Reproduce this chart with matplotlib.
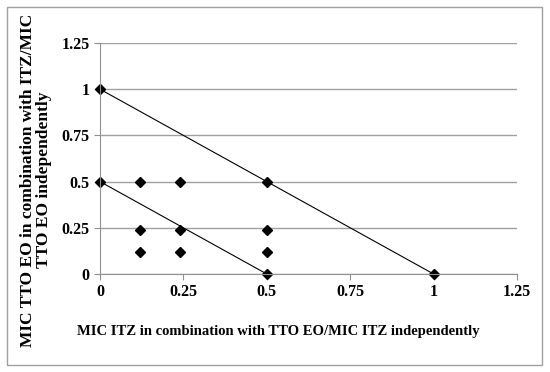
import matplotlib
matplotlib.use("Agg")
import matplotlib.pyplot as plt
from matplotlib.patches import Rectangle

# Data
line1_x = [0, 0.5, 1]
line1_y = [1, 0.5, 0]
line2_x = [0, 0.5]
line2_y = [0.5, 0]
pts_x = [0.12, 0.24, 0.12, 0.24, 0.5, 0.12, 0.24, 0.5]
pts_y = [0.5, 0.5, 0.24, 0.24, 0.24, 0.12, 0.12, 0.12]
ticks = [0, 0.25, 0.5, 0.75, 1, 1.25]
tick_labels = ["0", "0.25", "0.5", "0.75", "1", "1.25"]
xlabel = "MIC ITZ in combination with TTO EO/MIC ITZ independently"
ylabel = "MIC TTO EO in combination with ITZ/MIC\nTTO EO independently"

plt.rcParams['font.family'] = ['Liberation Serif', 'DejaVu Serif']
plt.rcParams['font.weight'] = 'bold'

fig = plt.figure(figsize=(5.5, 3.72), dpi=100)
fig.patches.append(Rectangle((7/550, 7/372), 535/550, 358/372, transform=fig.transFigure,
                             fill=False, edgecolor='#a0a0a0', linewidth=1))
ax = fig.add_axes([100/550, 1 - 274/372, 417/550, 231/372])
ax.set_xlim(0, 1.25)
ax.set_ylim(0, 1.25)
ax.set_xticks(ticks)
ax.set_xticklabels(tick_labels)
ax.set_yticks(ticks)
ax.set_yticklabels(tick_labels)
ax.grid(axis='y', color='#a0a0a0', linewidth=1)
ax.set_axisbelow(True)
for s in ['top', 'right']:
    ax.spines[s].set_visible(False)
for s in ['left', 'bottom']:
    ax.spines[s].set_color('#909090')
ax.tick_params(axis='both', colors='#909090', length=4, labelcolor='black', labelsize=11.5)
for lab in ax.get_xticklabels() + ax.get_yticklabels():
    lab.set_fontweight('bold')

ax.plot(line1_x, line1_y, color='black', linewidth=0.8, clip_on=False)
ax.plot(line2_x, line2_y, color='black', linewidth=0.8, clip_on=False)
mk = dict(linestyle='none', marker='D', color='black', markersize=5.5, clip_on=False)
ax.plot(line1_x, line1_y, **mk)
ax.plot(line2_x, line2_y, **mk)
ax.plot(pts_x, pts_y, **mk)

fig.text(278/550, 1 - 331/372, xlabel, ha='center', va='center', fontsize=10.5, fontweight='bold')
fig.text(36/550, 1 - 180/372, ylabel, ha='center', va='center', rotation=90, fontsize=12.5,
         fontweight='bold', linespacing=1.0)

fig.savefig("out.png", dpi=100)
